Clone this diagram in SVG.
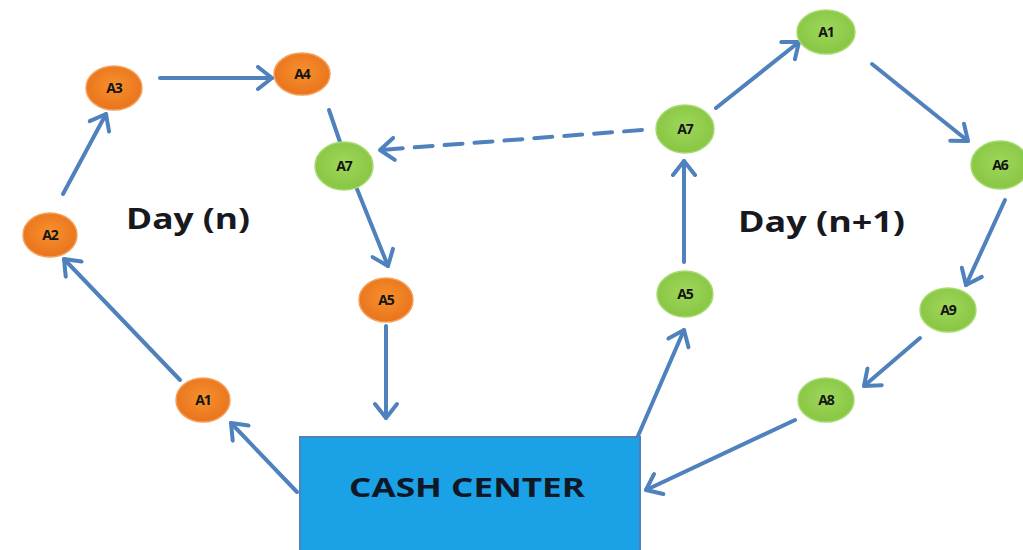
<svg xmlns="http://www.w3.org/2000/svg" width="1023" height="550" viewBox="0 0 1023 550">
<defs>
<radialGradient id="go" cx="50%" cy="45%" r="60%">
<stop offset="0%" stop-color="#F7922E"/><stop offset="100%" stop-color="#E8701A"/>
</radialGradient>
<radialGradient id="gg" cx="50%" cy="45%" r="60%">
<stop offset="0%" stop-color="#9FD75C"/><stop offset="100%" stop-color="#86C440"/>
</radialGradient>
<marker id="ah" markerUnits="userSpaceOnUse" markerWidth="26" markerHeight="26" viewBox="0 0 26 26" refX="22" refY="13" orient="auto">
<path d="M8,2 L22,13 L8,24" fill="none" stroke="#4F81BD" stroke-width="4" stroke-linecap="round" stroke-linejoin="round"/>
</marker>
</defs>
<style>
.e{stroke:#4F81BD;stroke-width:4;fill:none;stroke-linecap:round}
.o{fill:url(#go);stroke:#F3A05A;stroke-width:1.5}
.g{fill:url(#gg);stroke:#A8DA72;stroke-width:1.5}
.l{font-family:"Open Sans","Liberation Sans",Arial,sans-serif;font-weight:bold;font-size:14px;fill:#141414;text-anchor:middle;letter-spacing:-1px}
.d{font-family:"Open Sans","Liberation Sans",Arial,sans-serif;font-weight:bold;font-size:28px;fill:#18181F}
</style>
<rect width="1023" height="550" fill="#FFFFFF"/>
<g id="connectors">
<line class="e" x1="180" y1="380" x2="64" y2="259" marker-end="url(#ah)"/>
<line class="e" x1="63" y1="194" x2="106" y2="114" marker-end="url(#ah)"/>
<line class="e" x1="160" y1="78" x2="272" y2="78" marker-end="url(#ah)"/>
<line class="e" x1="329" y1="110" x2="340" y2="142"/>
<line class="e" x1="357" y1="189" x2="388" y2="266" marker-end="url(#ah)"/>
<line class="e" x1="386" y1="326" x2="386" y2="418" marker-end="url(#ah)"/>
<line class="e" x1="297" y1="492" x2="231" y2="423" marker-end="url(#ah)"/>
<line class="e" x1="638" y1="436" x2="684" y2="330" marker-end="url(#ah)"/>
<line class="e" x1="684" y1="262" x2="684" y2="161" marker-end="url(#ah)"/>
<line class="e" x1="642" y1="130" x2="380" y2="150" stroke-dasharray="18,12" marker-end="url(#ah)"/>
<line class="e" x1="716" y1="108" x2="799" y2="42" marker-end="url(#ah)"/>
<line class="e" x1="872" y1="64" x2="968" y2="141" marker-end="url(#ah)"/>
<line class="e" x1="1005" y1="200" x2="966" y2="285" marker-end="url(#ah)"/>
<line class="e" x1="920" y1="338" x2="864" y2="386" marker-end="url(#ah)"/>
<line class="e" x1="795" y1="420" x2="646" y2="490" marker-end="url(#ah)"/>
</g>
<g id="cash-center">
<rect x="300" y="437" width="340" height="120" fill="#1BA1E6" stroke="#4F81BD" stroke-width="2"/>
<text x="467" y="497" font-family="'Open Sans','Liberation Sans',Arial,sans-serif" font-weight="bold" font-size="27" fill="#101828" text-anchor="middle" textLength="236" lengthAdjust="spacingAndGlyphs">CASH CENTER</text>
</g>
<g id="day-n-label"><text class="d" x="126" y="229" textLength="124" lengthAdjust="spacingAndGlyphs">Day (n)</text></g>
<g id="day-n1-label"><text class="d" x="738" y="232" textLength="167" lengthAdjust="spacingAndGlyphs">Day (n+1)</text></g>
<g id="n-A3"><ellipse class="o" cx="114" cy="88" rx="28" ry="22"/><text class="l" x="114" y="93">A3</text></g>
<g id="n-A4"><ellipse class="o" cx="302" cy="74" rx="28" ry="21"/><text class="l" x="302" y="79">A4</text></g>
<g id="n-A2"><ellipse class="o" cx="50" cy="235" rx="27" ry="22"/><text class="l" x="50" y="240">A2</text></g>
<g id="n-A7-left"><ellipse class="g" cx="344" cy="166" rx="29" ry="24"/><text class="l" x="344" y="171">A7</text></g>
<g id="n-A5-left"><ellipse class="o" cx="386" cy="300" rx="27" ry="22"/><text class="l" x="386" y="305">A5</text></g>
<g id="n-A1-left"><ellipse class="o" cx="203" cy="400" rx="27" ry="22"/><text class="l" x="203" y="405">A1</text></g>
<g id="n-A5-right"><ellipse class="g" cx="685" cy="294" rx="28" ry="23"/><text class="l" x="685" y="299">A5</text></g>
<g id="n-A7-right"><ellipse class="g" cx="685" cy="129" rx="29" ry="24"/><text class="l" x="685" y="134">A7</text></g>
<g id="n-A1-right"><ellipse class="g" cx="826" cy="32" rx="29" ry="22"/><text class="l" x="826" y="37">A1</text></g>
<g id="n-A6"><ellipse class="g" cx="1000" cy="165" rx="29" ry="24"/><text class="l" x="1000" y="170">A6</text></g>
<g id="n-A9"><ellipse class="g" cx="948" cy="310" rx="28" ry="22"/><text class="l" x="948" y="315">A9</text></g>
<g id="n-A8"><ellipse class="g" cx="826" cy="400" rx="28" ry="22"/><text class="l" x="826" y="405">A8</text></g>
</svg>
